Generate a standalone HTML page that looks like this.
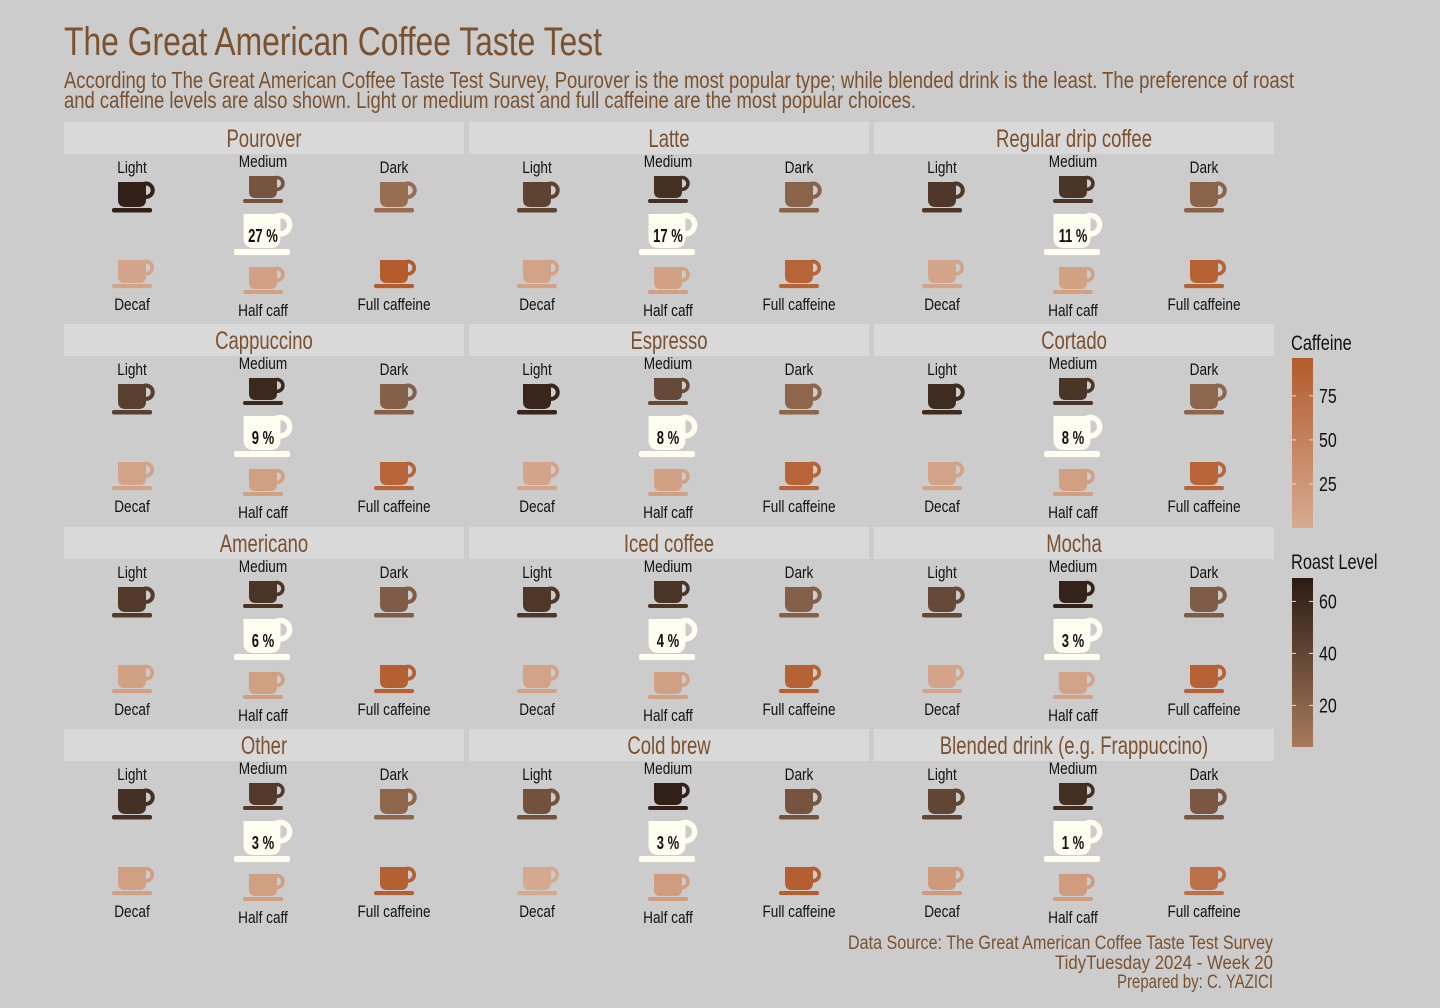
<!DOCTYPE html>
<html><head><meta charset="utf-8"><style>
html,body{margin:0;padding:0;background:#cccccc;}
svg{display:block;font-family:"Liberation Sans Narrow","Liberation Sans",sans-serif;}
</style></head><body>
<svg id="chart" width="1440" height="1008" viewBox="0 0 1440 1008" xmlns="http://www.w3.org/2000/svg">
<rect width="1440" height="1008" fill="#cccccc"/>
<text x="64" y="55" font-size="40" fill="#7a5230" textLength="538" lengthAdjust="spacingAndGlyphs">The Great American Coffee Taste Test</text>
<text x="64" y="88" font-size="23" fill="#7a5230" textLength="1230" lengthAdjust="spacingAndGlyphs">According to The Great American Coffee Taste Test Survey, Pourover is the most popular type; while blended drink is the least. The preference of roast</text>
<text x="64" y="108" font-size="23" fill="#7a5230" textLength="852" lengthAdjust="spacingAndGlyphs">and caffeine levels are also shown. Light or medium roast and full caffeine are the most popular choices.</text>
<g id="panels"></g>
<g id="legend"></g>
<text x="1273" y="949" font-size="19" fill="#7a5230" text-anchor="end" textLength="425" lengthAdjust="spacingAndGlyphs">Data Source: The Great American Coffee Taste Test Survey</text>
<text x="1273" y="969" font-size="19" fill="#7a5230" text-anchor="end" textLength="218" lengthAdjust="spacingAndGlyphs">TidyTuesday 2024 - Week 20</text>
<text x="1273" y="988" font-size="19" fill="#7a5230" text-anchor="end" textLength="156" lengthAdjust="spacingAndGlyphs">Prepared by: C. YAZICI</text>
</svg>
<script>
const drinks = ["Pourover","Latte","Regular drip coffee","Cappuccino","Espresso","Cortado","Americano","Iced coffee","Mocha","Other","Cold brew","Blended drink (e.g. Frappuccino)"];
const pct = [27,17,11,9,8,8,6,4,3,3,3,1];
const roastLight = [66,42,50,45,62,58,48,50,38,55,32,40];
const roastMedium = [30,55,52,60,38,52,52,52,64,48,66,56];
const roastDark = [12,20,20,22,18,18,25,22,25,18,30,28];
const cafDecaf = [8,10,8,10,8,10,12,10,8,15,3,20];
const cafHalf = [12,12,12,14,12,14,15,12,10,15,18,18];
const cafFull = [95,85,88,85,85,85,90,88,88,90,92,70];
const cafTicks = [25,50,75];
const roastTicks = [20,40,60];

const NS="http://www.w3.org/2000/svg";
function mk(tag,attrs,parent){const e=document.createElementNS(NS,tag);for(const k in attrs)e.setAttribute(k,attrs[k]);if(parent)parent.appendChild(e);return e;}
function squeeze(e,f){const w=e.getComputedTextLength();if(w>0){e.setAttribute("textLength",(w*f).toFixed(1));e.setAttribute("lengthAdjust","spacingAndGlyphs");}}
function hex(c){return [parseInt(c.slice(1,3),16),parseInt(c.slice(3,5),16),parseInt(c.slice(5,7),16)];}
function lerpC(a,b,t){t=Math.max(0,Math.min(1,t));const A=hex(a),B=hex(b);return "rgb("+A.map((v,i)=>Math.round(v+(B[i]-v)*t)).join(",")+")";}
const roastMin=4,roastMax=69,cafMin=0,cafMax=96.5;
function roastColor(v){return lerpC("#a87a5c","#2a1c14",(v-roastMin)/(roastMax-roastMin));}
function cafColor(v){return lerpC("#d6ab91","#b35b2c",(v-cafMin)/(cafMax-cafMin));}

function cup(g,cx,top,w,h,sw,color,name){
  const grp=mk("g",{},g);
  
  
  const l=cx-w/2,r=cx+w/2,b=top+h,rr=h*0.3;
  mk("path",{d:`M${l} ${top} H${r} V${b-rr} Q${r} ${b} ${r-rr} ${b} H${l+rr} Q${l} ${b} ${l} ${b-rr} Z`,fill:color},grp);
  const hr=h*0.27;
  mk("circle",{cx:r,cy:top+hr+1.5,r:hr,fill:"none",stroke:color,"stroke-width":h*0.16},grp);
  mk("rect",{x:cx-sw/2,y:b+1,width:sw,height:Math.max(4,h*0.18),rx:2,fill:color},grp);
  return grp;
}
function label(g,x,y,t,size,name,f){
  const e=mk("text",{x:x,y:y,"font-size":size,"text-anchor":"middle",fill:"#111"},g);
  e.textContent=t;
  
  
  squeeze(e,f||0.8);
  return e;
}

const panels=document.getElementById("panels");
const colX=[64,469,874],rowY=[122,324,527,729];
drinks.forEach((d,i)=>{
  const px=colX[i%3],py=rowY[Math.floor(i/3)];
  const g=mk("g",{},panels);
  
  
  const s=mk("rect",{x:px,y:py,width:400,height:32,fill:"#d9d9d9"},g);
  
  
  const st=mk("text",{x:px+200,y:py+25,"font-size":25,"text-anchor":"middle",fill:"#7a5230"},g);
  st.textContent=d;
  
  
  squeeze(st,0.74);
  const L=px+68,M=px+199,R=px+330;
  label(g,L,py+51,"Light",17,"label-light");
  label(g,M,py+45,"Medium",17,"label-medium");
  label(g,R,py+51,"Dark",17,"label-dark");
  cup(g,L,py+60,28,25,40,roastColor(roastLight[i]),"cup-light-roast");
  cup(g,M,py+54,28,22,40,roastColor(roastMedium[i]),"cup-medium-roast");
  cup(g,R,py+60,28,25,40,roastColor(roastDark[i]),"cup-dark-roast");
  cup(g,M-1,py+92,37,34,56,"#fdfdf0","cup-share");
  const pt=label(g,M,py+120,pct[i]+" %",18,"share-percent",0.85);
  pt.setAttribute("font-weight","bold");
  squeeze(pt,0.85);
  cup(g,L,py+138,28,23,40,cafColor(cafDecaf[i]),"cup-decaf");
  cup(g,M,py+145,28,22,40,cafColor(cafHalf[i]),"cup-half-caff");
  cup(g,R,py+138,28,23,40,cafColor(cafFull[i]),"cup-full-caffeine");
  label(g,L,py+188,"Decaf",17,"label-decaf");
  label(g,M,py+194,"Half caff",17,"label-half-caff");
  label(g,R,py+188,"Full caffeine",17,"label-full-caffeine");
});

// legends
const lg=document.getElementById("legend");
const defs=mk("defs",{},lg);
const g1=mk("linearGradient",{id:"gcaf",x1:0,y1:1,x2:0,y2:0},defs);
mk("stop",{offset:0,"stop-color":cafColor(cafMin)},g1);mk("stop",{offset:1,"stop-color":cafColor(cafMax)},g1);
const g2=mk("linearGradient",{id:"groast",x1:0,y1:1,x2:0,y2:0},defs);
mk("stop",{offset:0,"stop-color":roastColor(roastMin)},g2);mk("stop",{offset:1,"stop-color":roastColor(roastMax)},g2);
function legend(title,ty,top,bot,vmin,vmax,grad,ticks,name){
  const g=mk("g",{},lg);
  
  
  const t=mk("text",{x:1291,y:ty,"font-size":21,fill:"#111"},g);t.textContent=title;
  squeeze(t,0.78);
  mk("rect",{x:1292,y:top,width:21,height:bot-top,fill:"url(#"+grad+")"},g);
  const sc=v=>bot-(v-vmin)/(vmax-vmin)*(bot-top);
  ticks.forEach(v=>{
    const y=sc(v);
    mk("line",{x1:1292,x2:1296,y1:y,y2:y,stroke:"#ddd","stroke-width":1},g);
    mk("line",{x1:1309,x2:1313,y1:y,y2:y,stroke:"#ddd","stroke-width":1},g);
    const tt=mk("text",{x:1319,y:y+7,"font-size":20,fill:"#111"},g);tt.textContent=v;
    squeeze(tt,0.8);
  });
}
legend("Caffeine",350,358,528,cafMin,cafMax,"gcaf",cafTicks,"legend-caffeine");
legend("Roast Level",569,578,747,roastMin,roastMax,"groast",roastTicks,"legend-roast-level");
</script>
</body></html>
